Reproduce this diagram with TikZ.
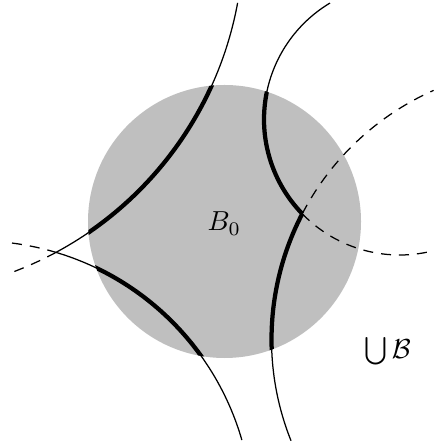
\documentclass[tikz,border=0pt]{standalone}
\begin{document}
\begin{tikzpicture}[x=0.4pt,y=0.4pt,
  thinline/.style={line width=0.5pt},
  thickline/.style={line width=1.7pt},
  dashline/.style={line width=0.5pt, dash pattern=on 4pt off 3.2pt},
  lbl/.style={inner sep=0pt, scale=1.1}]
\useasboundingbox (0,0) rectangle (434,-444);
\clip (0,0) rectangle (434,-444);
\coordinate (O) at (224.5,-221.5);
\coordinate (C1) at (-113,61.5);
\coordinate (C2) at (-23,-516.5);
\coordinate (C3) at (399.6,-119.4);
\coordinate (C4) at (544,-339.5);
\fill[lightgray] (O) circle[radius=136.5];
% circle 1
\draw[thinline] (C1) ++(-10.4:356.5) arc[start angle=-10.4, end angle=-61.67, radius=356.5];
\draw[dashline] (C1) ++(-61.67:356.5) arc[start angle=-61.67, end angle=-70, radius=356.5];
% circle 2
\draw[dashline] (C2) ++(82.7:275.7) arc[start angle=82.7, end angle=73.3, radius=275.7];
\draw[thinline] (C2) ++(73.3:275.7) arc[start angle=73.3, end angle=16.1, radius=275.7];
% circle 3
\draw[thinline] (C3) ++(120.9:135.6) arc[start angle=120.9, end angle=224.1, radius=135.6];
\draw[dashline] (C3) ++(224.1:135.6) arc[start angle=224.1, end angle=286, radius=135.6];
% circle 4
\draw[thinline] (C4) ++(152.5:272.5) arc[start angle=152.5, end angle=201.8, radius=272.5];
\draw[dashline] (C4) ++(152.5:272.5) arc[start angle=152.5, end angle=113.9, radius=272.5];
% thick parts inside the disk
\begin{scope}
\clip (O) circle[radius=136.5];
\draw[thickline] (C1) ++(-10.4:356.5) arc[start angle=-10.4, end angle=-61.67, radius=356.5];
\draw[thickline] (C2) ++(73.3:275.7) arc[start angle=73.3, end angle=16.1, radius=275.7];
\draw[thickline] (C3) ++(120.9:135.6) arc[start angle=120.9, end angle=224.1, radius=135.6];
\draw[thickline] (C4) ++(152.5:272.5) arc[start angle=152.5, end angle=201.8, radius=272.5];
\end{scope}
\node[lbl, anchor=base] (b0) at (224.3,-231) {$B_0$};
\node[lbl, anchor=base] (ub) at (387.5,-358) {$\bigcup\mathcal{B}$};
\end{tikzpicture}
\end{document}
